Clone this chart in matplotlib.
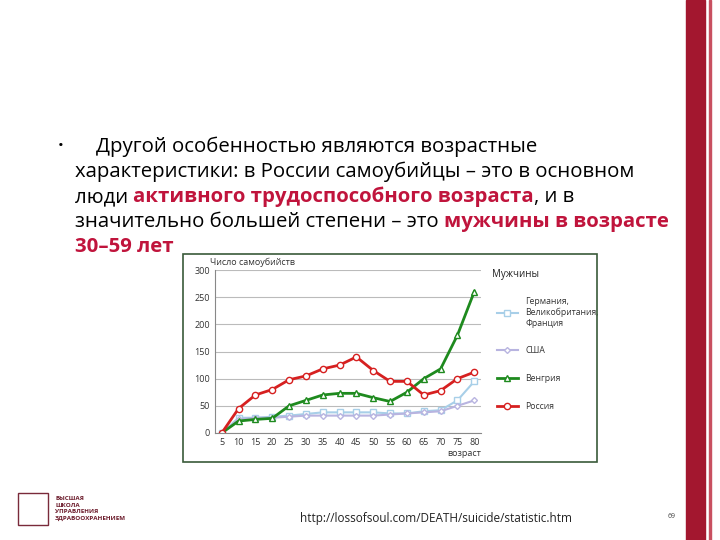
import matplotlib
matplotlib.use("Agg")
import matplotlib.pyplot as plt
from matplotlib.patches import Rectangle

ages = [5, 10, 15, 20, 25, 30, 35, 40, 45, 50, 55, 60, 65, 70, 75, 80]
russia = [0, 45, 70, 80, 98, 105, 118, 125, 140, 115, 95, 95, 70, 78, 100, 112]
hungary = [0, 22, 25, 27, 50, 60, 70, 73, 73, 65, 58, 75, 100, 118, 180, 260]
europe = [0, 28, 28, 30, 32, 35, 38, 38, 38, 38, 36, 36, 40, 42, 60, 95]
usa = [0, 25, 28, 28, 30, 32, 32, 32, 32, 32, 34, 36, 38, 40, 50, 60]
yticks = [0, 50, 100, 150, 200, 250, 300]

plt.rcParams['font.family'] = ['Open Sans', 'DejaVu Sans']
fig = plt.figure(figsize=(7.2, 5.4), dpi=100)
W, H = 720, 540
def fx(x): return x / W
def fy(y): return 1 - y / H

bg = fig.add_axes([0, 0, 1, 1])
bg.axis('off')
bg.set_xlim(0, 1); bg.set_ylim(0, 1)

# right decoration
fig.patches.append(Rectangle((fx(686), 0), fx(19), 1, transform=fig.transFigure, color='#a3172f'))
fig.patches.append(Rectangle((fx(709), 0), fx(1.5), 1, transform=fig.transFigure, color='#c85060'))

# text
red = '#c0143c'
fs = 14.7
fig.text(fx(58), fy(150), '•', fontsize=11, va='baseline')
lines = [
    [('    Другой особенностью являются возрастные', 'k', 'normal')],
    [('характеристики: в России самоубийцы – это в основном', 'k', 'normal')],
    [('люди ', 'k', 'normal'), ('активного трудоспособного возраста', red, 'bold'), (', и в', 'k', 'normal')],
    [('значительно большей степени – это ', 'k', 'normal'), ('мужчины в возрасте', red, 'bold')],
    [('30–59 лет', red, 'bold')],
]
for i, parts in enumerate(lines):
    y = fy(152 + 25 * i)
    t = bg.text(fx(75), y, parts[0][0], color=parts[0][1], fontweight=parts[0][2], fontsize=fs, va='baseline')
    for s, c, w in parts[1:]:
        t = bg.annotate(s, xy=(1, 0), xycoords=t, color=c, fontweight=w, fontsize=fs,
                        va='bottom', annotation_clip=False)

# chart box
fig.patches.append(Rectangle((fx(183), fy(462)), fx(597 - 183), (462 - 254) / H,
                             transform=fig.transFigure, fill=False, ec='#3a5a3a', lw=1.2))

ax = fig.add_axes([fx(215), fy(433), fx(481 - 215), (433 - 270) / H])
ax.plot(ages, europe, color='#a8cfe8', marker='s', mfc='white', ms=4, lw=1.5, label='Германия,\nВеликобритания,\nФранция')
ax.plot(ages, usa, color='#b8b4e0', marker='D', mfc='white', ms=3, lw=1.5, label='США')
ax.plot(ages, hungary, color='#1e8a1e', marker='^', mfc='white', ms=5, lw=2, label='Венгрия')
ax.plot(ages, russia, color='#d62020', marker='o', mfc='white', ms=4.5, lw=2, label='Россия')
ax.set_xlim(3, 82)
ax.set_ylim(0, 300)
ax.set_yticks(yticks)
ax.set_xticks(ages)
ax.grid(axis='y', color='#bbbbbb', lw=0.8)
ax.set_axisbelow(True)
for s in ['top', 'right']:
    ax.spines[s].set_visible(False)
for s in ['left', 'bottom']:
    ax.spines[s].set_color('#888888')
ax.tick_params(labelsize=6.5, length=0, colors='#333333')
ax.text(-0.02, 1.03, 'Число самоубийств', transform=ax.transAxes, fontsize=6.5, color='#333')
ax.text(1.0, -0.14, 'возраст', transform=ax.transAxes, fontsize=6.5, color='#333', ha='right')
fig.text(fx(492), fy(277), 'Мужчины', fontsize=7, color='#222')
leg = ax.legend(loc='upper left', bbox_to_anchor=(1.03, 0.88), frameon=False, fontsize=6.2,
                labelspacing=2.2, handlelength=2.5, labelcolor='#333')

fig.text(fx(300), fy(522), 'http://lossofsoul.com/DEATH/suicide/statistic.htm', fontsize=8.5, color='#222')
fig.text(fx(668), fy(518), '69', fontsize=5, color='#444')
fig.text(fx(55), fy(496), 'ВЫСШАЯ\nШКОЛА\nУПРАВЛЕНИЯ\nЗДРАВООХРАНЕНИЕМ', fontsize=4.5, color='#6b1a2a',
         va='top', fontweight='bold', linespacing=1.4)
fig.patches.append(Rectangle((fx(18), fy(525)), fx(30), 32 / H, transform=fig.transFigure,
                             fill=False, ec='#7a2a3a', lw=1))

fig.savefig('out.png')
